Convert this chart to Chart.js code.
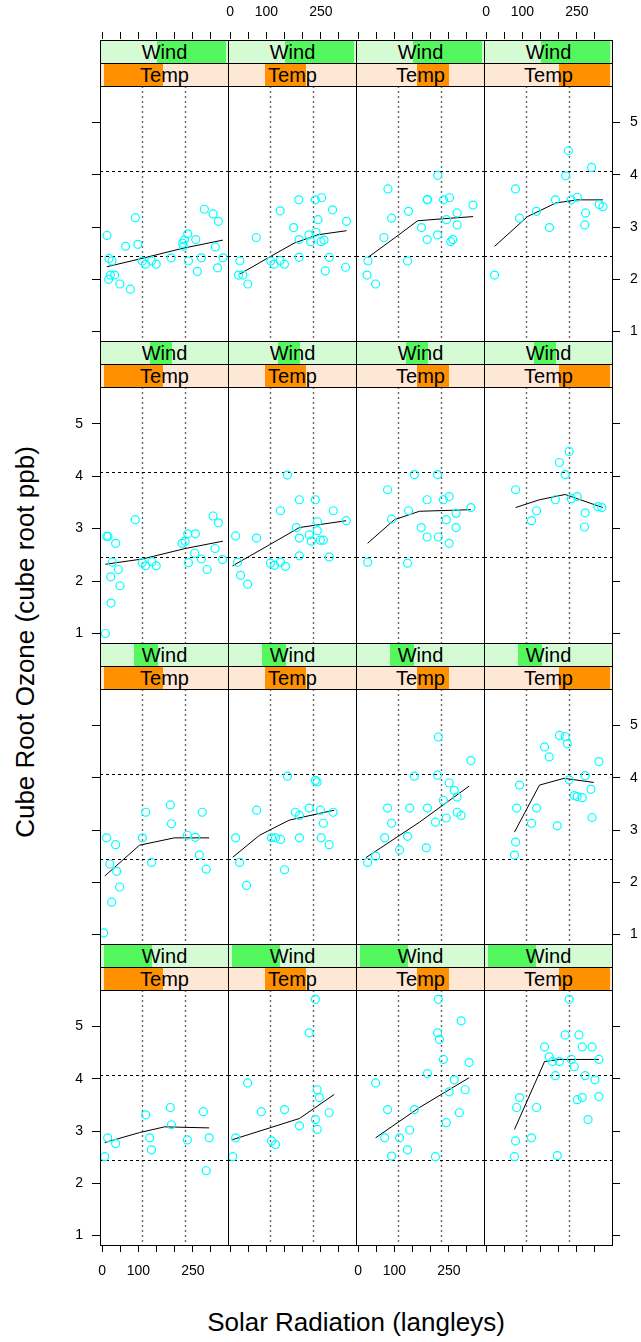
<!DOCTYPE html>
<html>
<head>
<meta charset="utf-8">
<script src="https://cdn.jsdelivr.net/npm/chart.js@4.4.0/dist/chart.umd.min.js"></script>
<style>
  body { margin: 0; background: #fff; width: 641px; height: 1342px; position: relative; overflow: hidden;
         font-family: "Liberation Sans", Arial, Helvetica, sans-serif; }
  canvas { position: absolute; }
  .strip { position: absolute; box-sizing: border-box; border: 1px solid #000; overflow: hidden; }
  .shade { position: absolute; top: 0; bottom: 0; }
  .strip span { position: absolute; left: 0; right: 0; top: 0; bottom: 0; text-align: center;
                font-size: 20px; line-height: 22px; color: #000; }
  .title { position: absolute; text-align: center; font-size: 26px; color: #000; white-space: nowrap; }
</style>
</head>
<body>
<div class="title" id="xtitle" style="left:100px;width:512px;top:1306px;line-height:32px;">Solar Radiation (langleys)</div>
<div class="title" id="ytitle" style="left:-275px;width:600px;top:626px;height:32px;line-height:32px;transform:rotate(-90deg);">Cube Root Ozone (cube root ppb)</div>
<script>
// axis settings
const xRange = [-6.08, 347.08];
const yRange = [0.819, 5.699];
const xTicks = [0, 50, 100, 150, 200, 250, 300];
const xTickLabels = [0, 100, 250];
const yTicks = [1, 2, 3, 4, 5];
const refX = [110.5, 229.6];
const refY = [2.45, 4.08];

// shingle levels (rows top -> bottom for wind, columns left -> right for temp)
const windFull = [2.3, 20.7];
const windLevels = [[10.3, 20.7], [9.2, 12.6], [6.9, 10.4], [2.3, 9.5]];
const tempFull = [56.5, 97.5];
const tempLevels = [[56.5, 76.5], [67.5, 81.5], [75.5, 86.5], [80.5, 97.5]];

// points [radiation, cube root ozone]
const r1c1 = [[13.2,2.84],[18.7,2.40],[26.9,2.35],[22.5,2.08],[34.3,2.08],[17.8,2.00],[48.9,1.91],[77.5,1.81],[64.6,2.63],[91.3,3.18],[98.4,2.67],[110.5,2.35],[119.6,2.29],[136.1,2.35],[149,2.29],[190.3,2.41],[222.2,2.69],[226.9,2.75],[236,2.87],[224.1,2.63],[237.9,2.35],[258,2.76],[262.6,2.15],[273.6,2.41],[281.9,3.34],[305.8,3.25],[320.4,3.11],[312.1,2.62],[318.4,2.22],[333.3,2.41]];
const r1c2 = [[26.7,2.35],[23.1,2.08],[35,2.08],[48.7,1.91],[71.8,2.80],[112,2.35],[121.2,2.29],[137.7,2.36],[149.6,2.29],[137.7,3.31],[175.2,2.99],[189,3.52],[190,2.76],[190,2.42],[217.5,2.85],[222,2.72],[234.9,3.52],[252.2,3.56],[242.3,3.14],[236.8,2.90],[250.5,2.72],[258.8,2.75],[273.4,2.42],[262.4,2.16],[282.4,3.33],[320.9,3.11],[318.2,2.23]];
const r1c3 = [[27,2.35],[24.2,2.08],[48.1,1.91],[71,2.80],[82,3.73],[92.1,3.17],[136.1,2.35],[138.9,3.30],[174.6,2.99],[190.3,3.52],[191,3.53],[190.3,2.76],[219.7,3.99],[218.9,2.85],[235.4,3.52],[251.9,3.56],[243.7,3.14],[272.9,3.27],[272.9,3.04],[260.8,2.76],[255.3,2.72],[316.8,3.42]];
const r1c4 = [[23.1,2.08],[80.9,3.73],[91.9,3.17],[138.6,3.30],[174.4,2.99],[190.9,3.52],[219.2,3.98],[227,4.46],[234,3.52],[251.4,3.57],[290.7,4.14],[274.2,3.27],[272.3,3.04],[311.9,3.43],[322,3.39]];
const r2c1 = [[8.8,1.00],[12.4,2.85],[16,2.85],[37.1,2.72],[28,2.36],[23.4,2.08],[44.5,2.22],[49,1.91],[24.2,1.58],[91.3,3.17],[110.5,2.35],[119.6,2.29],[137,2.37],[149,2.29],[220.5,2.72],[228.8,2.76],[236,2.90],[237.9,2.35],[257.1,2.90],[255.2,2.53],[273.6,2.42],[289.3,2.22],[305.8,3.24],[320.4,3.11],[311.3,2.62],[332.2,2.41]];
const r2c2 = [[14.9,2.86],[20.4,2.36],[28.6,2.11],[47.9,1.94],[72.6,2.82],[111,2.34],[122,2.30],[138.6,2.36],[152.4,2.28],[138.6,3.34],[157.9,4.02],[182.6,3.02],[190.9,3.55],[190.9,2.82],[190.9,2.48],[218.4,2.88],[223.9,2.76],[234.9,3.55],[240.4,3.13],[240.4,2.96],[248.6,2.78],[256.9,2.78],[273.4,2.46],[284.4,3.34],[320.1,3.15]];
const r2c3 = [[26,2.36],[81,3.74],[92,3.18],[136,2.34],[139,3.34],[155,4.03],[174,3.02],[190,3.55],[190,2.84],[219,4.03],[221,2.84],[235,3.55],[251,3.61],[243,3.17],[251,2.72],[270,3.29],[270,3.02],[311,3.40]];
const r2c4 = [[81,3.74],[125,3.15],[139,3.34],[191,3.55],[202,4.26],[218,4.03],[229,4.47],[235,3.57],[251,3.61],[273,3.30],[271,3.03],[308,3.42],[319,3.40]];
const r3c1 = [[4,1.03],[12,2.85],[21,2.35],[26,1.62],[37,2.72],[48,1.91],[40,2.21],[120,3.34],[136,2.38],[188,3.48],[191,3.12],[235,2.90],[257,2.86],[276,3.34],[268,2.52],[287,2.25],[111,2.85]];
const r3c2 = [[15,2.85],[26,2.38],[45,1.94],[73,3.38],[114,2.85],[125,2.85],[139,2.82],[150,2.24],[158,4.03],[180,3.34],[191,3.28],[191,2.85],[218,3.42],[235,3.95],[240,3.92],[249,3.38],[251,2.85],[257,3.13],[273,2.72],[284,3.34]];
const r3c3 = [[26,2.38],[48,2.50],[73,2.85],[81,3.42],[92,3.13],[114,2.62],[136,2.88],[142,3.42],[155,4.03],[188,2.66],[191,3.42],[213,3.15],[219,4.05],[221,4.78],[235,3.57],[243,3.23],[251,3.90],[265,3.76],[273,3.63],[273,3.34],[284,3.28],[311,4.33]];
const r3c4 = [[78,2.52],[81,2.77],[84,3.42],[92,3.86],[125,3.13],[139,3.42],[161,4.59],[174,4.40],[196,3.08],[202,4.81],[218,4.79],[224,4.65],[229,3.96],[243,3.66],[251,3.64],[265,3.62],[273,4.04],[292,3.24],[289,3.78],[311,4.31]];
const r4c1 = [[7,2.51],[15,2.87],[37,2.76],[120,3.31],[131,2.87],[136,2.64],[188,3.45],[191,3.12],[235,2.83],[287,2.24],[279,3.37],[295,2.87]];
const r4c2 = [[7,2.51],[15,2.87],[48,3.92],[86,3.37],[114,2.81],[125,2.74],[150,3.41],[191,3.10],[218,4.88],[235,5.52],[240,3.79],[246,3.64],[235,3.22],[240,3.03],[273,3.35]];
const r4c3 = [[48,3.92],[73,2.87],[81,3.41],[92,2.52],[114,2.87],[136,2.64],[142,3.02],[155,3.41],[191,4.10],[213,2.51],[219,4.88],[221,5.52],[224,4.75],[235,4.37],[243,3.16],[251,3.75],[265,3.98],[279,3.35],[284,5.11],[295,3.79],[306,4.31]];
const r4c4 = [[78,2.51],[81,2.81],[84,3.45],[92,3.64],[125,2.87],[139,3.45],[161,4.61],[174,4.42],[183,4.33],[191,4.06],[196,2.53],[202,4.33],[218,4.84],[229,5.52],[235,4.37],[243,4.23],[251,3.60],[256,4.84],[265,3.64],[265,4.61],[273,4.06],[281,3.22],[292,4.61],[300,3.98],[311,4.37],[311,3.66]];

// loess curves
const f1c1 = [[13,2.24],[110,2.40],[220,2.59],[333,2.75]];
const f1c2 = [[26.7,2.10],[112,2.44],[176,2.69],[240,2.85],[321,2.93]];
const f1c3 = [[27,2.42],[104,2.81],[164,3.12],[237,3.16],[317,3.20]];
const f1c4 = [[23,2.63],[114,3.20],[192,3.46],[251,3.52],[322,3.52]];
const f2c1 = [[8.8,2.32],[110.5,2.42],[229,2.62],[333,2.76]];
const f2c2 = [[6.6,2.29],[108,2.69],[191,3.02],[320,3.15]];
const f2c3 = [[26,2.72],[100,3.17],[169,3.33],[311,3.36]];
const f2c4 = [[81,3.40],[147,3.55],[218,3.65],[322,3.40]];
const f3c1 = [[7,2.12],[103,2.71],[199,2.85],[295,2.85]];
const f3c2 = [[7,2.48],[81,2.90],[163,3.19],[287,3.38]];
const f3c3 = [[21,2.47],[169,3.15],[306,3.84]];
const f3c4 = [[78,2.96],[147,3.86],[215,3.99],[297,3.91]];
const f4c1 = [[7,2.78],[103,2.97],[172,3.08],[295,3.06]];
const f4c2 = [[4,2.83],[191,3.24],[287,3.70]];
const f4c3 = [[48,2.87],[169,3.45],[306,4.02]];
const f4c4 = [[78,3.03],[161,4.33],[202,4.37],[311,4.37]];

const points = [[r1c1, r1c2, r1c3, r1c4], [r2c1, r2c2, r2c3, r2c4], [r3c1, r3c2, r3c3, r3c4], [r4c1, r4c2, r4c3, r4c4]];
const fits = [[f1c1, f1c2, f1c3, f1c4], [f2c1, f2c2, f2c3, f2c4], [f3c1, f3c2, f3c3, f3c4], [f4c1, f4c2, f4c3, f4c4]];

// layout
const colLeft = [100, 228, 356, 484];
const rowTop = [40, 341, 643, 944];
const figBottom = 1245;
const PW = 128, SH = 23, M = 8;
const FONT = '"Liberation Sans", Arial, Helvetica, sans-serif';

function panelTop(r) { return rowTop[r] + 2 * SH; }
function panelBottom(r) { return r < 3 ? rowTop[r + 1] : figBottom; }

function addCanvas(left, top, w, h) {
  var c = document.createElement("canvas");
  c.width = w; c.height = h;
  c.style.left = left + "px"; c.style.top = top + "px";
  c.style.width = w + "px"; c.style.height = h + "px";
  document.body.appendChild(c);
  return c;
}

function addStrip(left, top, label, bg, fg, level, full) {
  var pad = 0.02;
  var a = pad + (level[0] - full[0]) / (full[1] - full[0]) * (1 - 2 * pad);
  var b = pad + (level[1] - full[0]) / (full[1] - full[0]) * (1 - 2 * pad);
  var d = document.createElement("div");
  d.className = "strip";
  d.style.left = left + "px"; d.style.top = top + "px";
  d.style.width = (PW + 1) + "px"; d.style.height = (SH + 1) + "px";
  d.style.background = bg;
  var s = document.createElement("div");
  s.className = "shade";
  s.style.left = (a * PW) + "px";
  s.style.width = ((b - a) * PW) + "px";
  s.style.background = fg;
  var t = document.createElement("span");
  t.textContent = label;
  d.appendChild(s); d.appendChild(t);
  document.body.appendChild(d);
}

const panelFrame = {
  id: "panelFrame",
  beforeDatasetsDraw(chart) {
    var ctx = chart.ctx, a = chart.chartArea;
    var xs = chart.scales.x, ys = chart.scales.y;
    ctx.save();
    ctx.lineWidth = 1.4;
    ctx.strokeStyle = "#666";
    ctx.setLineDash([2, 3]);
    refX.forEach(function (v) {
      var px = Math.round(xs.getPixelForValue(v)) + 0.5;
      ctx.beginPath(); ctx.moveTo(px, a.top); ctx.lineTo(px, a.bottom); ctx.stroke();
    });
    ctx.lineWidth = 1;
    ctx.strokeStyle = "#000";
    ctx.setLineDash([3, 3]);
    refY.forEach(function (v) {
      var py = Math.round(ys.getPixelForValue(v)) + 0.5;
      ctx.beginPath(); ctx.moveTo(a.left, py); ctx.lineTo(a.right, py); ctx.stroke();
    });
    ctx.restore();
  },
  afterDraw(chart) {
    var ctx = chart.ctx, a = chart.chartArea;
    ctx.save();
    ctx.strokeStyle = "#000";
    ctx.lineWidth = 1;
    ctx.strokeRect(a.left + 0.5, a.top + 0.5, a.right - a.left, a.bottom - a.top);
    ctx.restore();
  }
};

// axes for each column (top and bottom)
for (let c = 0; c < 4; c++) {
  let cv = addCanvas(colLeft[c] - 30, 0, PW + 60, 1300);
  let topLab = (c % 2 === 1), botLab = (c % 2 === 0);
  let common = function (show, pos, h) {
    return {
      type: "linear", position: pos, min: xRange[0], max: xRange[1],
      afterFit: function (s) { s.height = h; },
      afterBuildTicks: function (s) { s.ticks = xTicks.map(function (v) { return { value: v }; }); },
      grid: { drawOnChartArea: false, tickLength: 7, color: "#000", lineWidth: 1 },
      border: { display: false },
      ticks: {
        autoSkip: false, maxRotation: 0, padding: 11, color: "#000",
        font: { size: 14, family: FONT },
        callback: function (v) { return show && xTickLabels.indexOf(v) >= 0 ? String(v) : ""; }
      }
    };
  };
  new Chart(cv, {
    type: "scatter",
    data: { datasets: [] },
    options: {
      responsive: false, animation: false, events: [],
      layout: { padding: { left: 30, right: 30, top: 0, bottom: 0 } },
      plugins: { legend: { display: false }, tooltip: { enabled: false } },
      scales: {
        x: common(topLab, "top", 39),
        xb: common(botLab, "bottom", 1300 - figBottom),
        y: { display: false }
      }
    }
  });
}

// axes for each row (left and right)
for (let r = 0; r < 4; r++) {
  let t = panelTop(r), h = panelBottom(r) - t;
  let cv = addCanvas(0, t - 20, 641, h + 40);
  let leftLab = (r % 2 === 1), rightLab = (r % 2 === 0);
  let common = function (show, pos, w, pad) {
    return {
      type: "linear", position: pos, min: yRange[0], max: yRange[1],
      afterFit: function (s) { s.width = w; },
      afterBuildTicks: function (s) { s.ticks = yTicks.map(function (v) { return { value: v }; }); },
      grid: { drawOnChartArea: false, tickLength: 8, color: "#000", lineWidth: 1 },
      border: { display: false },
      ticks: {
        autoSkip: false, padding: pad, color: "#000",
        font: { size: 14, family: FONT },
        callback: function (v) { return show ? String(v) : ""; }
      }
    };
  };
  new Chart(cv, {
    type: "scatter",
    data: { datasets: [] },
    options: {
      responsive: false, animation: false, events: [],
      layout: { padding: { left: 0, right: 0, top: 20, bottom: 20 } },
      plugins: { legend: { display: false }, tooltip: { enabled: false } },
      scales: {
        y: common(leftLab, "left", colLeft[0], 9),
        yr: common(rightLab, "right", 641 - (colLeft[3] + PW), 10),
        x: { display: false }
      }
    }
  });
}

// strips and panels
for (let r = 0; r < 4; r++) {
  for (let c = 0; c < 4; c++) {
    addStrip(colLeft[c], rowTop[r], "Wind", "#d4fbd4", "#55f75f", windLevels[r], windFull);
    addStrip(colLeft[c], rowTop[r] + SH, "Temp", "#fee8d5", "#ff9100", tempLevels[c], tempFull);

    let t = panelTop(r), h = panelBottom(r) - t;
    let cv = addCanvas(colLeft[c] - M, t - M, PW + 2 * M, h + 2 * M);
    new Chart(cv, {
      type: "scatter",
      data: {
        datasets: [
          {
            data: points[r][c].map(function (p) { return { x: p[0], y: p[1] }; }),
            pointStyle: "circle", pointRadius: 4, borderWidth: 1.2,
            borderColor: "#00ffff", backgroundColor: "rgba(0,0,0,0)"
          },
          {
            data: fits[r][c].map(function (p) { return { x: p[0], y: p[1] }; }),
            showLine: true, pointRadius: 0, borderColor: "#000", borderWidth: 1, fill: false
          }
        ]
      },
      options: {
        responsive: false, animation: false, events: [],
        layout: { padding: M },
        plugins: { legend: { display: false }, tooltip: { enabled: false } },
        scales: {
          x: { type: "linear", display: false, min: xRange[0], max: xRange[1] },
          y: { type: "linear", display: false, min: yRange[0], max: yRange[1] }
        }
      },
      plugins: [panelFrame]
    });
  }
}
</script>
</body>
</html>
